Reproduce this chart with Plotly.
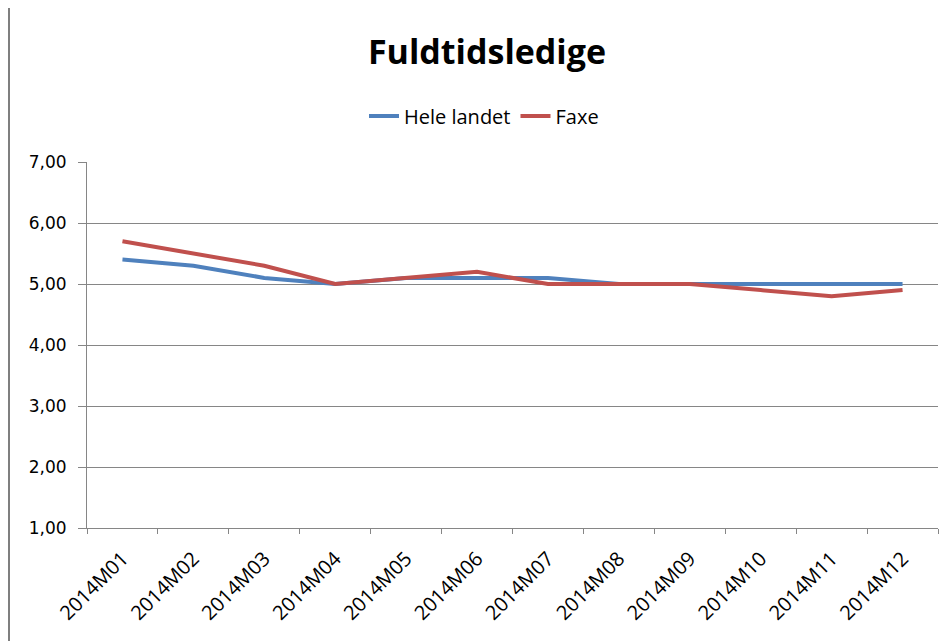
import plotly.graph_objects as go

months = ["2014M01", "2014M02", "2014M03", "2014M04", "2014M05", "2014M06",
          "2014M07", "2014M08", "2014M09", "2014M10", "2014M11", "2014M12"]
hele_landet = [5.4, 5.3, 5.1, 5.0, 5.1, 5.1, 5.1, 5.0, 5.0, 5.0, 5.0, 5.0]
faxe = [5.7, 5.5, 5.3, 5.0, 5.1, 5.2, 5.0, 5.0, 5.0, 4.9, 4.8, 4.9]
y_ticks = [1, 2, 3, 4, 5, 6, 7]

# page body has an 8px margin, so the figure is offset by 8px
W, H = 944, 633
L, R, T, B = 79, 14, 154, 113
pw, ph = W - L - R, H - T - B

fig = go.Figure()
fig.add_trace(go.Scatter(x=months, y=hele_landet, mode="lines", name="Hele landet",
                         line=dict(color="#4F81BD", width=4)))
fig.add_trace(go.Scatter(x=months, y=faxe, mode="lines", name="Faxe",
                         line=dict(color="#C0504D", width=4)))

fig.update_layout(
    width=W, height=H,
    margin=dict(l=L, r=R, t=T, b=B, pad=0),
    paper_bgcolor="white", plot_bgcolor="white",
    separators=",.",
    title=dict(text="<b>Fuldtidsledige</b>", x=479 / W, xanchor="center",
               y=1 - 44 / H, yanchor="middle", yref="container",
               font=dict(family="Open Sans", size=34, color="black")),
    legend=dict(orientation="h", x=476 / W, xanchor="center", xref="container",
                y=1 - 108 / H, yanchor="middle", yref="container",
                font=dict(family="Open Sans", size=20, color="black"),
                tracegroupgap=0),
    showlegend=True,
    xaxis=dict(type="category", range=[-0.5, 11.5], tickson="boundaries",
               ticks="outside", ticklen=5, tickcolor="#868686", showline=True,
               linecolor="#868686", linewidth=1, showgrid=False, tickangle=-45,
               ticklabelstandoff=10,
               tickfont=dict(family="Open Sans", size=20, color="black")),
    yaxis=dict(range=[1, 7], tickvals=y_ticks, tickformat=".2f", ticks="outside",
               ticklen=8, tickcolor="#868686", showline=True, linecolor="#868686",
               linewidth=1, showgrid=True, gridcolor="#868686", gridwidth=1,
               zeroline=False, ticklabelstandoff=8,
               tickfont=dict(family="DejaVu Sans", size=17, color="black")),
)

# chart frame (left edge)
x_left = (1 - L) / pw
fig.add_shape(type="line", xref="paper", yref="paper", x0=x_left, x1=x_left,
              y0=-1, y1=2, line=dict(color="#7F7F7F", width=2))

fig.write_html("out.html")
